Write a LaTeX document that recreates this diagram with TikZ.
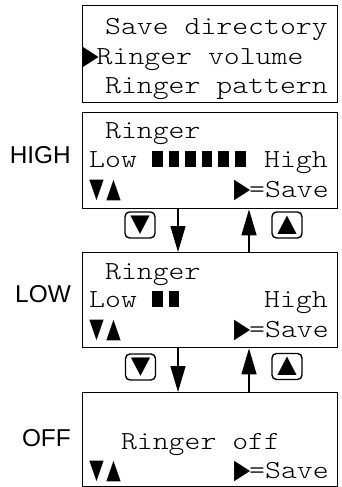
\documentclass[tikz,border=0pt]{standalone}
\usepackage{graphicx}
\usepackage{fontspec}
\setmainfont{Liberation Sans}
\newfontfamily\lcdf[Extension=.otf, FakeStretch=1.165]{lmmonolt10-regular}
\newfontfamily\symf{DejaVu Sans}
\usetikzlibrary{arrows.meta}
\newcommand\lcdfont{\lcdf\fontsize{26}{26}\selectfont}
\newcommand\lblfont{\rmfamily\fontsize{24.4}{24.4}\selectfont}
\newcommand\dtri[1]{\scalebox{0.94}[1.35]{\symf\fontsize{20}{20}\selectfont #1}}
\newcommand\ptri[1]{\scalebox{1.05}[1.35]{\symf\fontsize{20}{20}\selectfont #1}}
\newcommand\ktri[1]{\scalebox{1.15}[1.1]{\symf\fontsize{22}{22}\selectfont #1}}
\tikzset{
  lcd/.style={draw, line width=1.4pt, inner sep=0pt, anchor=north west},
  ln/.style={anchor=base west, inner sep=0pt, font=\lcdfont},
  lbl/.style={anchor=base east, inner sep=0pt, font=\lblfont},
  dsym/.style={anchor=center, inner sep=0pt},
  keybox/.style={draw, rounded corners=4.5pt, line width=1.4pt, minimum width=30pt, minimum height=26pt, inner sep=0pt},
  arr/.style={line width=1.4pt, -{Triangle[length=26pt,width=15pt]}},
  bar/.style={fill=black, draw=none}
}
\begin{document}
\begin{tikzpicture}[x=1pt,y=-1pt]
\useasboundingbox (0,0) rectangle (341,487);
% boxes
\node[lcd, minimum width=255pt, minimum height=97pt] (menu) at (82,5) {};
\node[lcd, minimum width=255pt, minimum height=96pt] (hi) at (82,112) {};
\node[lcd, minimum width=255pt, minimum height=95pt] (lo) at (82,252) {};
\node[lcd, minimum width=255pt, minimum height=93.5pt] (off) at (82,392) {};
% menu text
\node[ln] (m1) at (104.9,35) {Save directory};
\node[ln] (m2) at (84.5,64) {\makebox[12pt][c]{\ptri{▶}}Ringer volume};
\node[ln] (m3) at (104.9,93) {Ringer pattern};
% HIGH
\node[lbl] (lhi) at (71,163) {HIGH};
\node[ln] (h1) at (104.9,138) {Ringer};
\node[ln] (h2) at (89,167) {Low};
\node[ln] (h3) at (263.9,167) {High};
\foreach \i in {0,...,5} {\fill[bar] (152+16.6*\i,151) rectangle ++(10.5,16);}
\node[dsym] (h4) at (105,190.5) {\dtri{▼}\kern2.5pt\dtri{▲}};
\node[ln] (h5) at (235,197) {\makebox[14pt][c]{\ptri{▶}}=Save};
% LOW
\node[lbl] (llo) at (71,302) {LOW};
\node[ln] (l1) at (104.9,279) {Ringer};
\node[ln] (l2) at (89,307) {Low};
\node[ln] (l3) at (263.9,307) {High};
\foreach \i in {0,1} {\fill[bar] (152+16.6*\i,291) rectangle ++(10.5,16);}
\node[dsym] (l4) at (105,330) {\dtri{▼}\kern2.5pt\dtri{▲}};
\node[ln] (l5) at (235,337) {\makebox[14pt][c]{\ptri{▶}}=Save};
% OFF
\node[lbl] (loff) at (71,446) {OFF};
\node[ln] (o1) at (120.8,449) {Ringer off};
\node[dsym] (o4) at (105,471) {\dtri{▼}\kern2.5pt\dtri{▲}};
\node[ln] (o5) at (235,478) {\makebox[14pt][c]{\ptri{▶}}=Save};
% keys
\node[keybox] (k1d) at (140,225) {\ktri{▼}};
\node[keybox] (k1u) at (287,225) {\ktri{▲}};
\node[keybox] (k2d) at (140.5,367) {\ktri{▼}};
\node[keybox] (k2u) at (287,366.5) {\ktri{▲}};
% arrows
\draw[arr] ([xshift=96pt]hi.south west) -- ([xshift=96pt]lo.north west);
\draw[arr] ([xshift=167pt]lo.north west) -- ([xshift=167pt]hi.south west);
\draw[arr] ([xshift=96pt]lo.south west) -- ([xshift=96pt]off.north west);
\draw[arr] ([xshift=167pt]off.north west) -- ([xshift=167pt]lo.south west);
\end{tikzpicture}
\end{document}
